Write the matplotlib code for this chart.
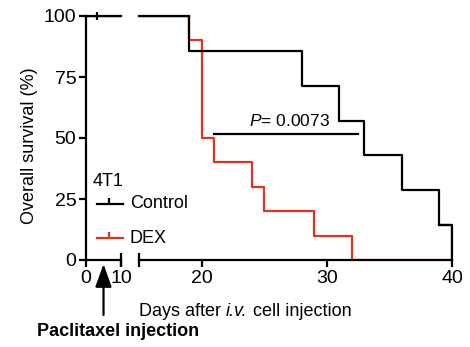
import matplotlib
matplotlib.use("Agg")
import matplotlib.pyplot as plt

plt.rcParams['font.family'] = ['Liberation Sans', 'DejaVu Sans']
plt.rcParams['mathtext.fontset'] = 'custom'
plt.rcParams['mathtext.rm'] = 'Liberation Sans'
plt.rcParams['mathtext.it'] = 'Liberation Sans:italic'

# Kaplan-Meier steps (days after i.v. injection, % surviving)
ctrl_days = [0, 19, 28, 31, 33, 36, 39, 40]
ctrl_surv = [100, 85.7, 71.4, 57.1, 42.9, 28.6, 14.3, 0]
dex_days = [0, 19, 20, 21, 24, 25, 29, 32]
dex_surv = [100, 90, 50, 40, 30, 20, 10, 0]
censor_day = 3
censor_surv = 100

y_ticks = [0, 25, 50, 75, 100]
left_ticks = [0, 10]
right_ticks = [20, 30, 40]
p_text = "0.0073"
p_span = [21, 32.5]
p_level = 51.5
inj_day = 5

BLACK = 'black'
RED = '#e0341f'
lw = 1.6
fs = 13
tfs = 14

fig = plt.figure(figsize=(4.7, 3.47), dpi=100)
W, H = 470, 347
y0, y1 = 260, 16
axL = fig.add_axes([86 / W, 1 - y0 / H, 35 / W, (y0 - y1) / H])
axR = fig.add_axes([139 / W, 1 - y0 / H, 313 / W, (y0 - y1) / H])

for ax, lo, hi in [(axL, 0, 10), (axR, 15, 40)]:
    ax.step(ctrl_days + [50], ctrl_surv + [0], where='post', color=BLACK,
            lw=lw, clip_on=True, zorder=3)
    ax.step(dex_days + [50], dex_surv + [0], where='post', color=RED,
            lw=lw, clip_on=True, zorder=2)
    ax.set_xlim(lo, hi)
    ax.set_ylim(0, 100)
    for s in ['top', 'right']:
        ax.spines[s].set_visible(False)
    ax.spines['bottom'].set_linewidth(lw)
    ax.spines['left'].set_linewidth(lw)
    ax.tick_params(width=lw, length=5, labelsize=tfs, direction='out', pad=2)
    ax.patch.set_visible(False)

# the 100% line sits on the axis edge, redraw it unclipped
axL.plot([0, 10], [100, 100], color=BLACK, lw=lw, clip_on=False, zorder=4)
axR.plot([15, 19], [100, 100], color=BLACK, lw=lw, clip_on=False, zorder=4)
axR.plot([39, 40, 40], [14.3, 14.3, 0], color=BLACK, lw=lw, clip_on=False, zorder=4)
axL.plot([censor_day], [censor_surv], marker='|', ms=6, mew=lw, color=BLACK,
         clip_on=False, zorder=5)

axL.set_xticks(left_ticks)
axL.set_yticks(y_ticks)
axR.set_xticks(right_ticks)
axR.set_yticks([])
axR.spines['left'].set_visible(False)

# break marks on the x axis
axL.plot([10], [0], marker='|', ms=10, mew=lw, color=BLACK, clip_on=False, zorder=5)
axR.plot([15], [0], marker='|', ms=10, mew=lw, color=BLACK, clip_on=False, zorder=5)

axL.set_ylabel('Overall survival (%)', fontsize=fs, labelpad=4)
axL.yaxis.set_label_coords(-1.38, 0.47)

# x label built from pieces so the italic part keeps normal spacing
fig.canvas.draw()
r = fig.canvas.get_renderer()
x = 139
for piece, style in [('Days after ', 'normal'), ('i.v.', 'italic'),
                     (' cell injection', 'normal')]:
    t = fig.text(x / W, 1 - 312 / H, piece, fontsize=fs, style=style,
                 ha='left', va='center')
    x += t.get_window_extent(r).width

# log-rank bracket
axR.plot(p_span, [p_level, p_level], color=BLACK, lw=lw, zorder=3)
axR.text(sum(p_span) / 2 + 0.3, p_level + 2, '$\\mathit{P}$= ' + p_text,
         fontsize=fs - 0.5, ha='center', va='bottom')

# legend
axL.text(2, 28.5, '4T1', fontsize=fs, ha='left', va='bottom', clip_on=False)
for yy, col, lab in [(23, BLACK, 'Control'), (9, RED, 'DEX')]:
    axL.plot([3, 10.5], [yy, yy], color=col, lw=lw, clip_on=False)
    axL.plot([6.7], [yy + 1.2], marker='|', ms=5, mew=lw, color=col, clip_on=False)
    axL.text(12.5, yy, lab, fontsize=fs, ha='left', va='center', clip_on=False)

# injection arrow
axL.annotate('', xy=(inj_day, 1 - 264 / H), xycoords=('data', 'figure fraction'),
             xytext=(inj_day, 1 - 315 / H), textcoords=('data', 'figure fraction'),
             arrowprops=dict(arrowstyle='-|>,head_length=1.4,head_width=0.5',
                             color=BLACK, lw=lw, shrinkA=0, shrinkB=0))
fig.text(118 / W, 1 - 331 / H, 'Paclitaxel injection', fontsize=fs,
         fontweight='bold', ha='center', va='center')

fig.savefig('out.png', dpi=100)
